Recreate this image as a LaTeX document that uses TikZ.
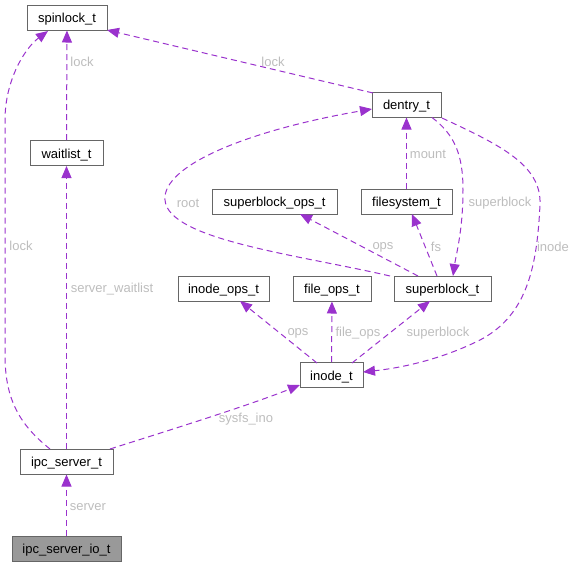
\documentclass[tikz,border=0pt]{standalone}
\usepackage{fontspec}
\setmainfont{Liberation Sans}
\usetikzlibrary{arrows.meta}
\definecolor{edgec}{HTML}{9A32CD}
\definecolor{labc}{HTML}{BDBDBD}
\definecolor{bordc}{HTML}{666666}
\tikzset{
  box/.style={draw=bordc, line width=1pt, fill=white, minimum height=25pt, inner sep=0pt, text height=10pt, text depth=0pt, font=\fontsize{13}{15}\selectfont, text=black},
  link/.style={draw=edgec, line width=1pt, dash pattern=on 6pt off 4pt, -{Triangle[length=12pt,width=10pt,fill=edgec]}},
  lab/.style={text=labc, font=\fontsize{13}{15}\selectfont, inner sep=0pt}
}
\begin{document}
\begin{tikzpicture}[x=1pt,y=-1pt]
\useasboundingbox (0,0) rectangle (574,566);
% nodes
\node[box, minimum width=80pt] (spin) at (67,17.5) {spinlock\_t};
\node[box, minimum width=73pt] (wait) at (66.5,153) {waitlist\_t};
\node[box, minimum width=69pt] (dentry) at (406.5,104.5) {dentry\_t};
\node[box, minimum width=125pt] (sbops) at (274.5,201.5) {superblock\_ops\_t};
\node[box, minimum width=91pt] (fsys) at (406.5,201.5) {filesystem\_t};
\node[box, minimum width=91pt] (iops) at (223.5,288.5) {inode\_ops\_t};
\node[box, minimum width=78pt] (fops) at (332,288.5) {file\_ops\_t};
\node[box, minimum width=97pt] (sb) at (442.5,288.5) {superblock\_t};
\node[box, minimum width=63pt] (inode) at (331.5,375) {inode\_t};
\node[box, minimum width=93pt] (ipc) at (66.5,461.5) {ipc\_server\_t};
\node[box, minimum width=109pt, fill=black!40] (ipcio) at (66.5,548.5) {ipc\_server\_io\_t};
% named coordinates for curve ends
\coordinate (ipcTL) at (50,449);
\coordinate (spinBL) at (48,31);
\coordinate (dentTL) at (373,93);
\coordinate (spinR) at (107,30);
\coordinate (dentB1) at (432,117.5);
\coordinate (dentB2) at (442,118);
\coordinate (sbT0) at (390,276);
\coordinate (sbT1) at (418,276);
\coordinate (sbT2) at (437,276);
\coordinate (sbT3) at (453,276);
\coordinate (dentL) at (372,109);
\coordinate (sbopsB) at (300,214);
\coordinate (fsysB) at (412,214);
\coordinate (inT1) at (317,363);
\coordinate (inT3) at (352,363);
\coordinate (iopsB) at (240,301);
\coordinate (sbB) at (430,301);
\coordinate (inR) at (363,372);
\coordinate (ipcTR) at (110,449);
\coordinate (inL) at (300,385);
% edges
\draw[link] (wait) -- (spin);
\node[lab] at (82,62) {lock};
\draw[link] (ipcTL) .. controls (20,425) and (5,400) .. (5,355) -- (5,120) .. controls (5,80) and (25,48) .. (spinBL);
\node[lab] at (21,246) {lock};
\draw[link] (dentTL) -- (spinR);
\node[lab] at (273,62) {lock};
\draw[link] (ipc) -- (wait);
\node[lab] at (112,289) {server\_waitlist};
\draw[link] (ipcTR) .. controls (170,430) and (250,405) .. (inL);
\node[lab] at (246,419) {sysfs\_ino};
\draw[link] (ipcio) -- (ipc);
\node[lab] at (88,507) {server};
\draw[link] (fsys) -- (dentry);
\node[lab] at (428,154) {mount};
\draw[link] (dentB1) .. controls (455,135) and (463,155) .. (463,190) .. controls (463,230) and (456,255) .. (sbT3);
\node[lab] at (500,203) {superblock};
\draw[link] (dentB2) .. controls (500,145) and (542,165) .. (540,205) .. controls (537,265) and (528,315) .. (480,340) .. controls (440,360) and (400,368) .. (inR);
\node[lab] at (553,247) {inode};
\draw[link] (sbT0) .. controls (300,255) and (168,240) .. (165,200) .. controls (162,165) and (250,130) .. (dentL);
\node[lab] at (188,203) {root};
\draw[link] (sbT1) -- (sbopsB);
\node[lab] at (383,247) {ops};
\draw[link] (sbT2) -- (fsysB);
\node[lab] at (436,247) {fs};
\draw[link] (inT1) -- (iopsB);
\node[lab] at (298,333) {ops};
\draw[link] (inode) -- (fops);
\node[lab] at (358,333) {file\_ops};
\draw[link] (inT3) -- (sbB);
\node[lab] at (438,333) {superblock};
\end{tikzpicture}
\end{document}
